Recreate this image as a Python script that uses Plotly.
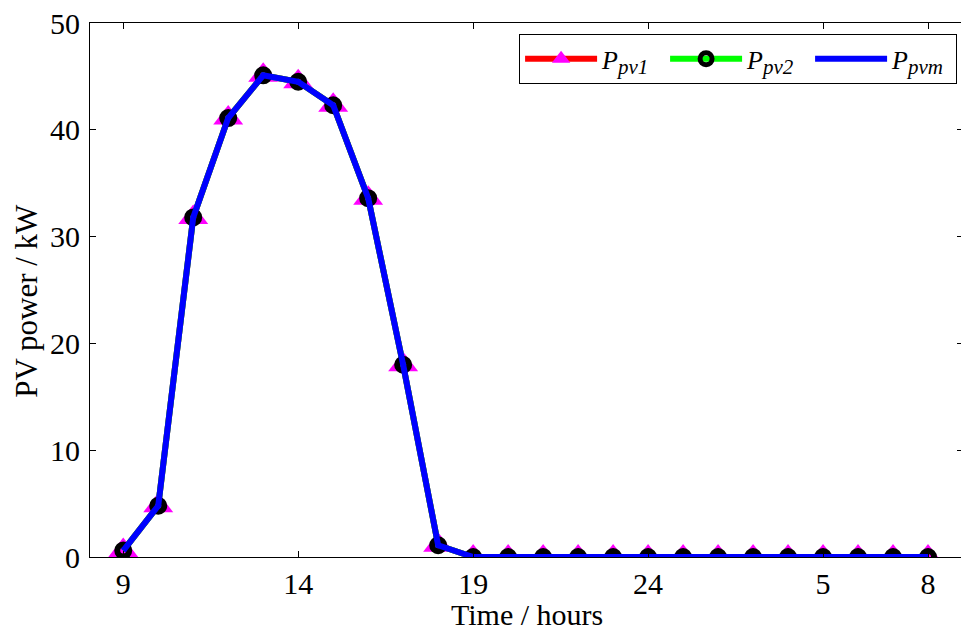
import plotly.graph_objects as go

hours = [9, 10, 11, 12, 13, 14, 15, 16, 17, 18, 19, 20, 21, 22, 23, 24,
         1, 2, 3, 4, 5, 6, 7, 8]
pv1 = [0.6, 4.8, 31.8, 41.1, 45.1, 44.5, 42.3, 33.6, 18.0, 1.1,
       0, 0, 0, 0, 0, 0, 0, 0, 0, 0, 0, 0, 0, 0]
pv2 = [0.6, 4.8, 31.8, 41.1, 45.1, 44.5, 42.3, 33.6, 18.0, 1.1,
       0, 0, 0, 0, 0, 0, 0, 0, 0, 0, 0, 0, 0, 0]
pvm = [0.6, 4.8, 31.8, 41.1, 45.1, 44.5, 42.3, 33.6, 18.0, 1.1,
       0, 0, 0, 0, 0, 0, 0, 0, 0, 0, 0, 0, 0, 0]
tick_hours = [9, 14, 19, 24, 5, 8]
y_ticks = [0, 10, 20, 30, 40, 50]

xs = list(range(len(hours)))
tickvals = [hours.index(h) for h in tick_hours]
ticktext = [str(h) for h in tick_hours]

FONT = "Liberation Serif"

def leg_name(sub):
    return ("<i>P</i><sub><span style='font-size:21px'><i>%s</i></span></sub>" % sub)

fig = go.Figure()
fig.add_trace(go.Scatter(
    x=xs, y=pv1, mode="lines+markers", name=leg_name("pv1"),
    line=dict(color="#ff0000", width=6),
    marker=dict(symbol="triangle-up", size=26, color="#ff00ff"),
))
fig.add_trace(go.Scatter(
    x=xs, y=pv2, mode="lines+markers", name=leg_name("pv2"),
    line=dict(color="#00ff00", width=6),
    marker=dict(symbol="circle-open", size=12, color="#000000",
                line=dict(width=6, color="#000000")),
))
fig.add_trace(go.Scatter(
    x=xs, y=pvm, mode="lines", name=leg_name("pvm"),
    line=dict(color="#0000ff", width=6),
))

# The page body adds an 8px offset; the figure is sized to fit the window.
fig.update_layout(
    width=961, height=623,
    margin=dict(l=82, r=6, t=15, b=74, autoexpand=False),
    paper_bgcolor="white", plot_bgcolor="white",
    font=dict(family=FONT, color="black", size=28),
    showlegend=True,
    legend=dict(
        orientation="h",
        x=0.993, xanchor="right", y=0.979, yanchor="top",
        bordercolor="black", borderwidth=1.2, bgcolor="white",
        font=dict(family=FONT, size=26, color="black"),
        itemwidth=72, entrywidth=58, entrywidthmode="pixels",
        tracegroupgap=0,
    ),
    annotations=[
        dict(text="Time / hours", xref="paper", yref="paper", x=0.5, y=-0.108,
             xanchor="center", yanchor="middle", showarrow=False,
             font=dict(family=FONT, size=30, color="black")),
        dict(text="PV power / kW", xref="paper", yref="paper", x=-0.072, y=0.48,
             xanchor="center", yanchor="middle", showarrow=False, textangle=-90,
             font=dict(family=FONT, size=31, color="black")),
    ],
)
fig.update_xaxes(
    range=[-0.95, 24], tickmode="array", tickvals=tickvals, ticktext=ticktext,
    showgrid=False, zeroline=False, showline=True, linecolor="black", linewidth=1.2,
    mirror="ticks", ticks="inside", ticklen=6, tickcolor="black", automargin=False,
    ticklabeloverflow="allow",
    tickfont=dict(family=FONT, size=30, color="black"),
)
fig.update_yaxes(
    range=[0, 50], tickmode="array", tickvals=y_ticks,
    showgrid=False, zeroline=False, showline=True, linecolor="black", linewidth=1.2,
    mirror="ticks", ticks="inside", ticklen=6, tickcolor="black", automargin=False,
    ticklabelstandoff=3, ticklabeloverflow="allow",
    tickfont=dict(family=FONT, size=30, color="black"),
)

fig.write_html("out.html")
